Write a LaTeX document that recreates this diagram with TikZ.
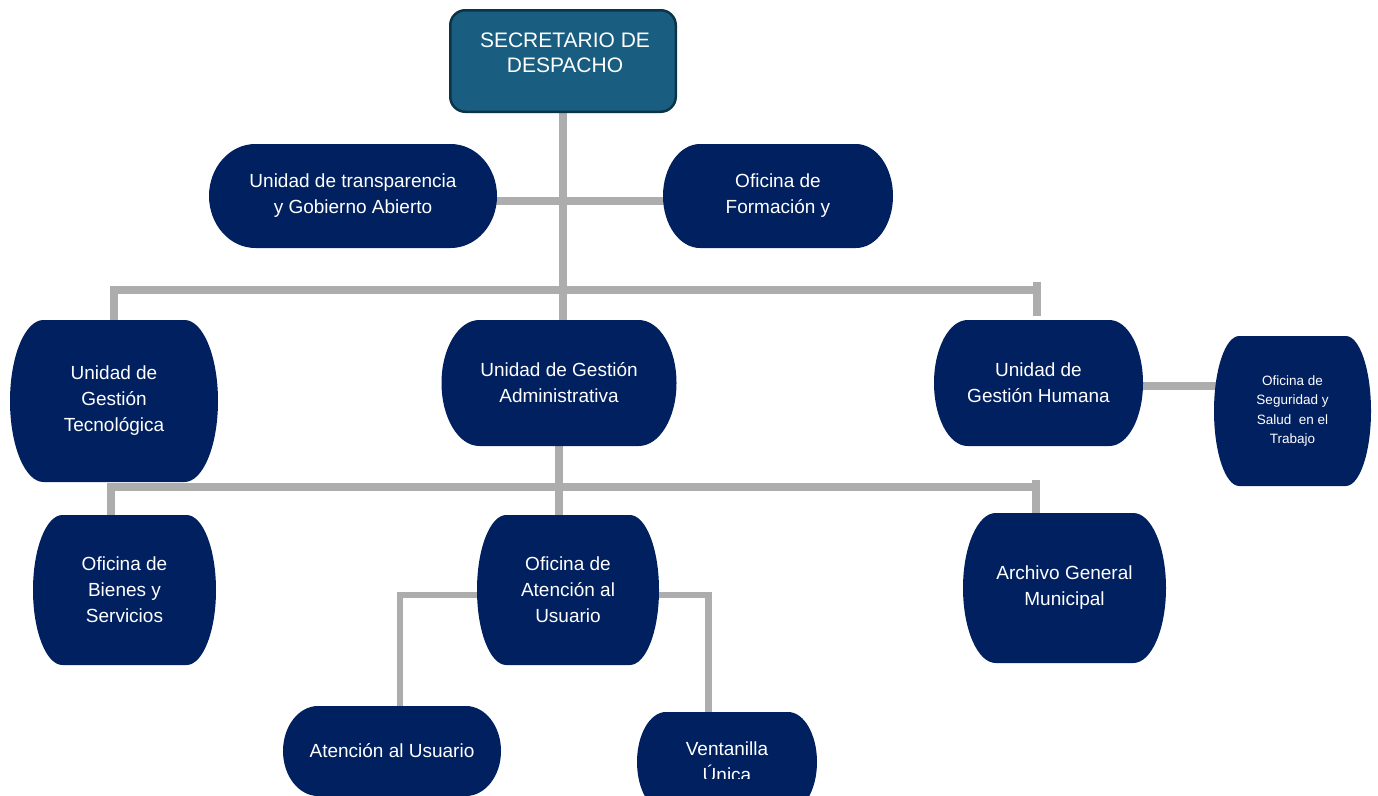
\documentclass[tikz,border=0pt]{standalone}
\usepackage{fontspec}
\setmainfont{Liberation Sans}
\usetikzlibrary{calc,backgrounds}
\definecolor{navy}{RGB}{0,32,96}
\definecolor{secfill}{RGB}{25,94,128}
\definecolor{secline}{RGB}{12,52,72}
\definecolor{conngray}{RGB}{173,173,173}
\tikzset{
  term/.style args={#1/#2}{rectangle, inner sep=0pt, minimum width=#1, minimum height=#2,
    text=white, align=center, font=\fontsize{19}{26}\selectfont,
    path picture={\fill[navy] let \p1=(path picture bounding box.south west),
        \p2=(path picture bounding box.north east),
        \n1={0.161*(\x2-\x1)}, \n2={(\y2-\y1)/2} in
        (\x1+\n1,\y2) -- (\x2-\n1,\y2)
        arc[start angle=90,end angle=-90,x radius=\n1,y radius=\n2]
        -- (\x1+\n1,\y1)
        arc[start angle=270,end angle=90,x radius=\n1,y radius=\n2] -- cycle;}},
  termtext/.style={text=white, align=center, inner sep=0pt, font=\fontsize{19}{26}\selectfont},
  smalltext/.style={font=\fontsize{13.5}{19.5}\selectfont},
  secbox/.style={rectangle, rounded corners=15pt, fill=secfill, draw=secline, line width=2.5pt,
    inner sep=0pt, minimum width=225.5pt, minimum height=101.5pt},
  sectext/.style={text=white, align=center, inner sep=0pt, font=\fontsize{21}{25}\selectfont},
  conn/.style={draw=conngray, line width=8pt},
  thinconn/.style={draw=conngray, line width=6.5pt},
}
\begin{document}
\begin{tikzpicture}[x=1pt,y=-1pt]
\useasboundingbox (0,0) rectangle (1378,795);
\clip (0,0) rectangle (1378,795);

% nodes
\node[secbox] (sec) at (563,61) {};
\node[sectext] (sectxt) at (565,52.5) {SECRETARIO DE\\DESPACHO};

\node[term=288pt/104pt] (tra) at (353,196) {Unidad de transparencia\\y Gobierno Abierto};
\node[term=230pt/104pt] (for) at (778,196) {Oficina de\\Formación y};

\node[term=208pt/162pt] (tec) at (114,401) {Unidad de\\Gestión\\Tecnológica};
\node[term=235pt/126pt] (adm) at (559,383) {Unidad de Gestión\\Administrativa};
\node[term=209pt/126pt] (hum) at (1038.5,383) {Unidad de\\Gestión Humana};
\node[term=157pt/150pt, smalltext] (seg) at (1292.5,411) {Oficina de\\Seguridad y\\Salud\ \ en el\\Trabajo};

\node[term=183pt/150pt] (bie) at (124.5,590) {Oficina de\\Bienes y\\Servicios};
\node[term=182pt/150pt] (ofa) at (568,590) {Oficina de\\Atención al\\Usuario};
\node[term=203pt/150pt] (arc) at (1064.5,588) {Archivo General\\Municipal};

\node[term=218pt/90pt] (atu) at (392,751) {Atención al Usuario};
\node[term=180pt/100pt] (ven) at (727,762) {};
\begin{scope}
  \clip (600,700) rectangle (850,778);
  \node[termtext] (ventxt) at (727,762) {Ventanilla\\Única};
\end{scope}

% connectors
\begin{scope}[on background layer]
  \fill[white] (0,0) rectangle (1378,795);
  \coordinate (b1) at (0,290);
  \coordinate (b2) at (0,487);
  \draw[conn] (sec.south) -- (sec.south |- adm.north);
  \draw[conn] ($(tra.east)+(-5,5)$) -- ($(for.west)+(5,5)$);
  \draw[conn] (tec.north) -- (tec.north |- b1) -- ($(hum.north |- b1)+(-1.5,0)$);
  \draw[conn] ($(hum.north |- b1)+(-1.5,-8)$) -- ($(hum.north)+(-1.5,-4)$);
  \draw[conn, line width=7.5pt] ($(hum.east)+(-5,3)$) -- ($(seg.west)+(5,-25)$);
  \draw[conn] (adm.south) -- (adm.south |- ofa.north);
  \draw[conn] ($(bie.north)+(-13.5,0)$) -- ($(bie.north |- b2)+(-13.5,0)$) -- ($(arc.north |- b2)+(-28.5,0)$);
  \draw[conn] ($(arc.north |- b2)+(-28.5,-7)$) -- ($(arc.north)+(-28.5,0)$);
  \draw[thinconn] ($(ofa.west)+(5,5)$) -| ($(atu.north)+(8,2)$);
  \draw[thinconn] ($(ofa.east)+(-5,5)$) -| ($(ven.north)+(-18.5,2)$);
\end{scope}
\end{tikzpicture}
\end{document}
